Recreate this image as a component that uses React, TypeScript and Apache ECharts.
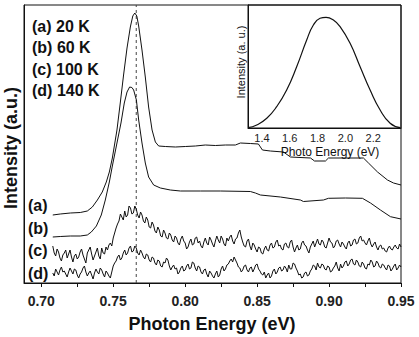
import React, { useEffect, useRef } from "react";
import * as echarts from "echarts";

// Main panel: photon energy (eV) vs intensity (a.u.)
const A_E = [0.708, 0.7132, 0.7202, 0.7271, 0.732, 0.7355, 0.739, 0.7424, 0.7452, 0.7473, 0.7494, 0.7526, 0.7549, 0.7572, 0.7596, 0.7619, 0.7636, 0.765, 0.7664, 0.7677, 0.77, 0.7723, 0.7746, 0.777, 0.7793, 0.7816, 0.7862, 0.7932, 0.8001, 0.8071, 0.814, 0.821, 0.828, 0.8349, 0.8384, 0.8453, 0.8509, 0.8537, 0.8592, 0.8683, 0.8732, 0.8871, 0.8899, 0.8975, 0.8996, 0.9114, 0.9239, 0.9274, 0.9337, 0.9406, 0.9448, 0.95];
const A_I = [68, 69, 70, 70.5, 72, 76, 83, 91, 101, 111, 125, 153, 180, 208, 235, 256, 267, 270, 267, 257, 233, 206, 176, 153, 141, 137, 136.5, 136, 136.5, 137, 138, 137.5, 138, 138, 140, 139.5, 139, 133, 132, 131, 126, 125, 122, 122, 125, 125, 125, 120, 111, 103, 100, 98];

const B_E = [0.708, 0.7132, 0.7202, 0.7271, 0.732, 0.7348, 0.7383, 0.7417, 0.7445, 0.7473, 0.7494, 0.7526, 0.7554, 0.7577, 0.7596, 0.7614, 0.763, 0.7642, 0.7661, 0.7677, 0.77, 0.7723, 0.7746, 0.7781, 0.7828, 0.7897, 0.7967, 0.8106, 0.8245, 0.8453, 0.8488, 0.8523, 0.8662, 0.8801, 0.8822, 0.8961, 0.8996, 0.9114, 0.9232, 0.9288, 0.9357, 0.9427, 0.95];
const B_I = [46, 46.5, 47, 47, 48, 51, 57, 68, 83, 101, 117, 140, 160, 180, 191, 196, 195.5, 193, 183, 163, 140, 120, 106, 98, 95, 93, 92, 92, 92, 91.5, 90, 88, 86, 83, 81.5, 83, 84.7, 85, 84.7, 80, 73, 66.3, 64];

// Noisy spectra (c) and (d), sampled every 1 meV from 0.708 eV to 0.950 eV
const NOISY_E0 = 0.708;
const NOISY_STEP = 0.001;
const C_I = [
  37, 30, 27, 34, 31, 25, 22, 28, 30, 33, 25, 29, 33, 26, 21, 27, 29, 24, 26, 31, 34, 28, 24, 20, 30, 33, 36, 29, 23, 27, 31, 35, 27, 24, 35, 30, 29, 36, 33, 38,
  40, 37, 45, 50, 55, 59, 62, 69, 66, 63, 72, 66, 68, 77, 75, 69, 70, 77, 74, 68, 65, 71, 68, 62, 60, 66, 63, 56, 55, 61, 58, 52, 50, 56, 53, 47, 46, 53, 50, 45, 44, 50,
  48, 43, 41, 47, 45, 40, 38, 44, 47, 42, 40, 34, 36, 41, 44, 38, 39, 45, 46, 40, 42, 37, 35, 41, 45, 40, 38, 46, 43, 39, 36, 42, 47, 43, 40, 47, 44, 39, 37, 45,
  42, 46, 48, 42, 39, 44, 45, 50, 53, 46, 41, 37, 36, 42, 44, 37, 33, 40, 38, 34, 31, 36, 35, 30, 29, 34, 37, 33, 32, 38, 40, 35, 36, 41, 43, 37, 38, 34, 33, 39,
  40, 36, 35, 41, 43, 36, 31, 35, 38, 33, 34, 40, 42, 38, 37, 33, 30, 36, 39, 42, 36, 40, 44, 39, 38, 43, 41, 36, 35, 40, 45, 41, 40, 35, 37, 42, 43, 39, 36, 41,
  39, 36, 34, 40, 42, 37, 38, 43, 44, 39, 40, 45, 47, 42, 43, 40, 38, 42, 45, 39, 36, 39, 41, 36, 33, 37, 38, 34, 35, 32, 31, 35, 37, 34, 33, 36, 38, 35, 34, 39, 36,
];
const D_I = [
  10, 7, 14, 11, 8, 13, 16, 11, 12, 9, 6, 11, 15, 12, 9, 14, 13, 8, 5, 9, 11, 15, 17, 11, 7, 10, 12, 8, 4, 10, 14, 11, 9, 15, 13, 9, 6, 12, 10, 7, 5, 11,
  17, 20, 22, 26, 28, 23, 25, 30, 33, 28, 30, 35, 37, 31, 32, 37, 35, 30, 28, 33, 30, 26, 24, 29, 28, 23, 21, 26, 25, 20, 18, 23, 22, 17, 16, 21, 20, 25, 23, 17,
  13, 16, 18, 14, 15, 9, 11, 15, 17, 12, 13, 17, 19, 14, 15, 21, 20, 15, 12, 17, 16, 11, 9, 13, 14, 9, 6, 12, 10, 7, 5, 9, 12, 6, 8, 14, 17, 12, 14, 18,
  19, 22, 24, 21, 26, 23, 20, 16, 15, 11, 13, 17, 18, 13, 11, 15, 16, 11, 14, 18, 19, 14, 12, 9, 8, 11, 5, 8, 10, 5, 7, 12, 14, 9, 11, 15, 16, 12, 13, 17,
  15, 11, 18, 14, 14, 20, 19, 15, 12, 8, 9, 5, 6, 10, 11, 7, 8, 12, 14, 18, 17, 13, 20, 16, 15, 19, 18, 14, 13, 17, 16, 11, 12, 15, 17, 21, 15, 12, 19, 15,
  17, 21, 22, 17, 19, 23, 24, 19, 18, 23, 21, 17, 16, 21, 19, 15, 14, 19, 18, 23, 21, 16, 17, 22, 20, 16, 15, 19, 18, 15, 13, 18, 17, 12, 14, 17, 19, 13, 15, 18, 16,
];

const PEAK_E = 0.766;
const Y_MAX = 278;
const MAIN_TICKS = [0.7, 0.725, 0.75, 0.775, 0.8, 0.825, 0.85, 0.875, 0.9, 0.925, 0.95];
const MAIN_LABELS = [0.7, 0.75, 0.8, 0.85, 0.9, 0.95];

const LEGEND_LINES = ["(a) 20 K", "(b) 60 K", "(c) 100 K", "(d) 140 K"];
const CURVE_TAGS = ["(a)", "(b)", "(c)", "(d)"];

// Inset: photo energy (eV) vs intensity
const INSET_E = [1.3, 1.363, 1.435, 1.506, 1.578, 1.65, 1.722, 1.77, 1.818, 1.861, 1.914, 1.962, 2.034, 2.106, 2.178, 2.25, 2.322, 2.394];
const INSET_I = [0.3, 3, 9.7, 21.3, 38, 61.3, 88, 103, 109.7, 110.7, 108, 101.3, 84.7, 61.3, 38, 18, 4.7, 0.3];
const INSET_LABELS = [1.4, 1.6, 1.8, 2.0, 2.2];

const FONT = "'Liberation Sans', Arial, sans-serif";

export default function App() {
  const ref = useRef<HTMLDivElement>(null);
  useEffect(() => {
    if (!ref.current) return;
    const chart = echarts.init(ref.current, null, { renderer: "svg" });
    const zip = (xs: number[], ys: number[]) => xs.map((x, i) => [x, ys[i]]);
    const noisy = (ys: number[]) => ys.map((y, i) => [+(NOISY_E0 + i * NOISY_STEP).toFixed(4), y]);
    const lineBase = {
      type: "line",
      showSymbol: false,
      symbol: "none",
      lineStyle: { color: "#111", width: 1 },
      silent: true,
    };
    const legendTexts = LEGEND_LINES.map((t, i) => ({
      type: "text",
      x: 32,
      y: 26 + i * 21.5,
      style: { text: t, font: `bold 16px ${FONT}`, fill: "#111", align: "left", verticalAlign: "middle" },
    }));
    const tagY = [205, 228, 250, 273];
    const tagTexts = CURVE_TAGS.map((t, i) => ({
      type: "text",
      x: 28,
      y: tagY[i],
      style: { text: t, font: `bold 16px ${FONT}`, fill: "#111", align: "left", verticalAlign: "middle" },
    }));
    chart.setOption({
      animation: false,
      backgroundColor: "#fff",
      grid: [
        { left: 24, top: 5, width: 377, height: 278, show: true, borderColor: "#111", borderWidth: 1, outerBoundsMode: "none" },
        { left: 248, top: 5, width: 153, height: 123, show: true, borderColor: "#111", borderWidth: 1, outerBoundsMode: "none" },
      ],
      xAxis: [
        {
          type: "value",
          gridIndex: 0,
          min: 0.688,
          max: 0.95,
          axisLine: { show: true, lineStyle: { color: "#111", width: 1 } },
          axisTick: { show: true, inside: false, length: 4, customValues: MAIN_TICKS, lineStyle: { color: "#111" } },
          axisLabel: {
            customValues: MAIN_LABELS,
            formatter: (v: number) => v.toFixed(2),
            fontFamily: FONT,
            fontWeight: "bold",
            fontSize: 14,
            color: "#222",
            margin: 11,
          },
          splitLine: { show: false },
        },
        {
          type: "value",
          gridIndex: 1,
          min: 1.3,
          max: 2.4,
          axisLine: { show: true, lineStyle: { color: "#111", width: 1 } },
          axisTick: { show: false },
          axisLabel: {
            customValues: INSET_LABELS,
            formatter: (v: number) => v.toFixed(1),
            fontFamily: FONT,
            fontSize: 11,
            color: "#222",
            margin: 4,
          },
          splitLine: { show: false },
        },
      ],
      yAxis: [
        {
          type: "value",
          gridIndex: 0,
          min: 0,
          max: Y_MAX,
          axisLine: { show: true, lineStyle: { color: "#111" } },
          axisTick: { show: false },
          axisLabel: { show: false },
          splitLine: { show: false },
        },
        {
          type: "value",
          gridIndex: 1,
          min: 0,
          max: 123,
          axisLine: { show: true, lineStyle: { color: "#111" } },
          axisTick: { show: false },
          axisLabel: { show: false },
          splitLine: { show: false },
        },
      ],
      series: [
        {
          ...lineBase,
          name: "peak",
          xAxisIndex: 0,
          yAxisIndex: 0,
          data: [[PEAK_E, 0], [PEAK_E, Y_MAX]],
          lineStyle: { color: "#444", width: 1, type: [3, 3] },
        },
        { ...lineBase, name: "(a) 20 K", xAxisIndex: 0, yAxisIndex: 0, data: zip(A_E, A_I) },
        { ...lineBase, name: "(b) 60 K", xAxisIndex: 0, yAxisIndex: 0, data: zip(B_E, B_I) },
        { ...lineBase, name: "(c) 100 K", xAxisIndex: 0, yAxisIndex: 0, data: noisy(C_I) },
        { ...lineBase, name: "(d) 140 K", xAxisIndex: 0, yAxisIndex: 0, data: noisy(D_I) },
        { ...lineBase, name: "inset", xAxisIndex: 1, yAxisIndex: 1, smooth: true, data: zip(INSET_E, INSET_I), lineStyle: { color: "#111", width: 1.2 } },
      ],
      graphic: [
        ...legendTexts,
        ...tagTexts,
        {
          type: "text",
          x: 212,
          y: 324,
          style: { text: "Photon Energy (eV)", font: `bold 18px ${FONT}`, fill: "#111", align: "center", verticalAlign: "middle" },
        },
        {
          type: "text",
          x: 11,
          y: 148,
          rotation: Math.PI / 2,
          style: { text: "Intensity (a.u.)", font: `bold 18px ${FONT}`, fill: "#111", align: "center", verticalAlign: "middle" },
        },
        {
          type: "text",
          x: 330,
          y: 152,
          style: { text: "Photo Energy (eV)", font: `12px ${FONT}`, fill: "#111", align: "center", verticalAlign: "middle" },
        },
        {
          type: "text",
          x: 241,
          y: 62,
          rotation: Math.PI / 2,
          style: { text: "Intensity (a. u.)", font: `11px ${FONT}`, fill: "#111", align: "center", verticalAlign: "middle" },
        },
      ],
    });
    return () => chart.dispose();
  }, []);
  return <div ref={ref} style={{ width: 419, height: 337, position: "absolute", left: 0, top: 0 }} />;
}
